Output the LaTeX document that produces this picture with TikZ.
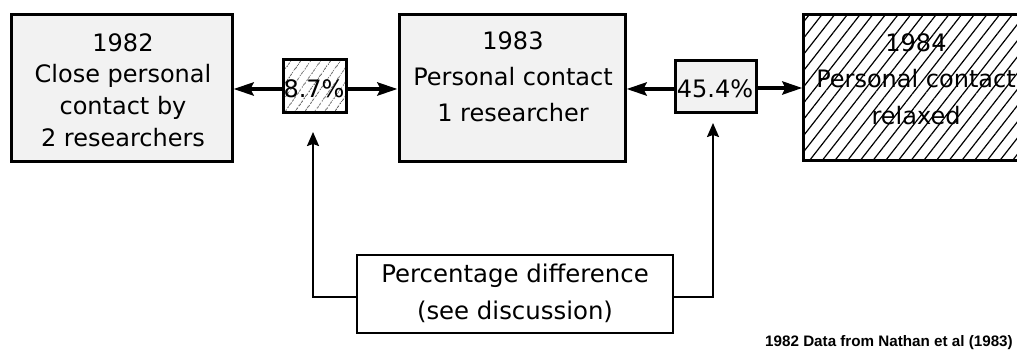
\documentclass[tikz,border=0pt]{standalone}
\usepackage{fontspec}
\setmainfont{DejaVu Sans}
\newfontfamily\notefont{Liberation Sans}
\usetikzlibrary{fit,arrows.meta,patterns.meta}
\begin{document}
\begin{tikzpicture}[x=0.5pt,y=-0.5pt,
  every node/.style={inner sep=0pt},
  yearbox/.style={draw, line width=1.5pt, fill=black!5},
  hatchbox/.style={draw, line width=1.5pt, pattern={Lines[angle=52,distance=5pt,line width=0.6pt]}},
  smallhatch/.style={draw, line width=1.5pt, pattern={Lines[angle=55,distance=4pt,line width=0.4pt]}, pattern color=black!60},
  smalldot/.style={draw, line width=1.5pt, fill=black!5},
  notebox/.style={draw, line width=1pt, fill=white},
  txt/.style={align=center, font=\fontsize{12}{16}\selectfont},
  bigarrow/.style={line width=2pt, -{Stealth[length=10pt,width=6.5pt,inset=1.5pt]}},
  uparrow/.style={line width=1pt, -{Stealth[length=7pt,width=6pt,inset=1pt]}}
]
\useasboundingbox (0,0) rectangle (1017,352);
\clip (0,0) rectangle (1017,352);
% boxes
\node[yearbox, fit={(11,15)(232,162)}] (b82) {};
\node[yearbox, fit={(399,15)(625,162)}] (b83) {};
\node[hatchbox, fit={(803,15)(1040,161)}] (b84) {};
\node[smallhatch, fit={(283,60)(346,113)}] (p87) {};
\node[smalldot, fit={(675,61)(756,113)}] (p454) {};
\node[notebox, fit={(357,255)(673,333)}] (pd) {};
% texts
\node[txt, font=\fontsize{12}{15.8}\selectfont] (t82) at (123,90) {1982\\Close personal\\contact by\\2 researchers};
\node[txt, font=\fontsize{12}{18}\selectfont] (t83) at (513,77) {1983\\Personal contact\\1 researcher};
\node[txt, font=\fontsize{12}{18.2}\selectfont] (t84) at (916,79) {1984\\Personal contact\\relaxed};
\node[txt] (n87) at (314,89) {8.7\%};
\node[txt] (n454) at (715,89) {45.4\%};
\node[txt, font=\fontsize{12.2}{18.5}\selectfont] (tpd) at (515,293) {Percentage difference\\(see discussion)};
\node[font=\notefont\bfseries\fontsize{7.6}{9}\selectfont] (note) at (889,343) {1982 Data from Nathan et al (1983)};
% horizontal arrows
\draw[bigarrow] (p87.west |- 0,89) -- (b82.east |- 0,89);
\draw[bigarrow] (p87.east |- 0,89) -- (b83.west |- 0,89);
\draw[bigarrow] (p454.west |- 0,89) -- (b83.east |- 0,89);
\draw[bigarrow] (p454.east |- 0,88) -- (b84.west |- 0,88);
% connectors from percentage difference
\coordinate (cl) at (313,297);
\coordinate (cr) at (713,297);
\coordinate (tl) at (313,132);
\coordinate (tr) at (713,123);
\draw[uparrow] (pd.west |- cl) -- (cl) -- (tl);
\draw[uparrow] (pd.east |- cr) -- (cr) -- (tr);
\end{tikzpicture}
\end{document}
